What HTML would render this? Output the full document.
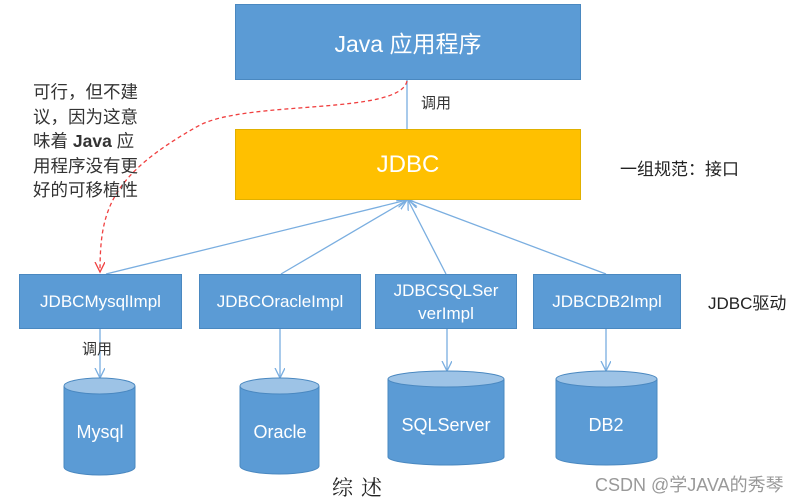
<!DOCTYPE html><html><head><meta charset="utf-8"><style>
body{margin:0;width:802px;height:501px;background:#fff;position:relative;overflow:hidden;font-family:"Liberation Sans","Noto Sans CJK SC",sans-serif}
.a{position:absolute}
.box{position:absolute;background:#5b9bd5;color:#fff;display:flex;align-items:center;justify-content:center;text-align:center;border:1px solid #4a88c0;box-sizing:border-box}
</style></head><body>
<svg class="a" style="left:0;top:0" width="802" height="501">
<defs><marker id="ar" markerWidth="12" markerHeight="12" refX="10" refY="5" orient="auto" markerUnits="userSpaceOnUse"><path d="M0,0 L10,5 L0,10" fill="none" stroke="#7aaee0" stroke-width="1.3"/></marker>
<marker id="rr" markerWidth="12" markerHeight="12" refX="10" refY="5" orient="auto" markerUnits="userSpaceOnUse"><path d="M0,0 L10,5 L0,10" fill="none" stroke="#f04040" stroke-width="1.3"/></marker></defs>
<g stroke="#7aaee0" stroke-width="1.3" fill="none">
<line x1="407" y1="80" x2="407" y2="129"/>
<line x1="106" y1="274" x2="407" y2="200" marker-end="url(#ar)"/>
<line x1="281" y1="274" x2="407" y2="200" marker-end="url(#ar)"/>
<line x1="446" y1="274" x2="408" y2="200" marker-end="url(#ar)"/>
<line x1="606" y1="274" x2="409" y2="200" marker-end="url(#ar)"/>
<line x1="100" y1="329" x2="100" y2="378" marker-end="url(#ar)"/>
<line x1="280" y1="329" x2="280" y2="378" marker-end="url(#ar)"/>
<line x1="447" y1="329" x2="447" y2="371" marker-end="url(#ar)"/>
<line x1="606" y1="329" x2="606" y2="371" marker-end="url(#ar)"/>
</g>
<path d="M407,81 C400,115 250,100 200,125 C110,175 100,210 100,272" fill="none" stroke="#f04040" stroke-width="1.3" stroke-dasharray="4,3" marker-end="url(#rr)"/>
<g stroke="#4a88c0" stroke-width="1">
<path d="M64,386 V467 A35.5,8 0 0 0 135,467 V386" fill="#5b9bd5"/><ellipse cx="99.5" cy="386" rx="35.5" ry="8" fill="#9dc3e6"/>
<path d="M240,386 V466 A39.5,8 0 0 0 319,466 V386" fill="#5b9bd5"/><ellipse cx="279.5" cy="386" rx="39.5" ry="8" fill="#9dc3e6"/>
<path d="M388,379 V457 A58,8 0 0 0 504,457 V379" fill="#5b9bd5"/><ellipse cx="446" cy="379" rx="58" ry="8" fill="#9dc3e6"/>
<path d="M556,379 V457 A50.5,8 0 0 0 657,457 V379" fill="#5b9bd5"/><ellipse cx="606.5" cy="379" rx="50.5" ry="8" fill="#9dc3e6"/>
</g>
<g fill="#fff" font-size="18" text-anchor="middle" font-family="Liberation Sans, sans-serif">
<text x="100" y="438">Mysql</text><text x="280" y="438">Oracle</text><text x="446" y="431">SQLServer</text><text x="606" y="431">DB2</text>
</g>
</svg>
<div class="box" style="left:235px;top:4px;width:346px;height:76px;font-size:23px">Java 应用程序</div>
<div class="box" style="left:235px;top:129px;width:346px;height:71px;background:#ffc000;border-color:#e0b000;font-size:24px">JDBC</div>
<div class="box" style="left:19px;top:274px;width:163px;height:55px;font-size:17px">JDBCMysqlImpl</div>
<div class="box" style="left:199px;top:274px;width:162px;height:55px;font-size:17px">JDBCOracleImpl</div>
<div class="box" style="left:375px;top:274px;width:142px;height:55px;font-size:17px;line-height:23px">JDBCSQLSer<br>verImpl</div>
<div class="box" style="left:533px;top:274px;width:148px;height:55px;font-size:17px">JDBCDB2Impl</div>
<div class="a" style="left:421px;top:92px;font-size:15px;color:#333">调用</div>
<div class="a" style="left:82px;top:338px;font-size:15px;color:#333">调用</div>
<div class="a" style="left:620px;top:155px;font-size:17px;color:#222">一组规范：接口</div>
<div class="a" style="left:708px;top:289px;font-size:17px;color:#222">JDBC驱动</div>
<div class="a" style="left:33px;top:80px;font-size:17.5px;line-height:24.5px;color:#333">可行，但不建<br>议，因为这意<br>味着 <b>Java</b> 应<br>用程序没有更<br>好的可移植性</div>
<div class="a" style="left:332px;top:472px;font-size:21px;font-family:'Noto Serif CJK SC',serif;color:#222;letter-spacing:8px">综述</div>
<div class="a" style="left:595px;top:471px;font-size:18px;color:#999">CSDN @学JAVA的秀琴</div>
</body></html>
